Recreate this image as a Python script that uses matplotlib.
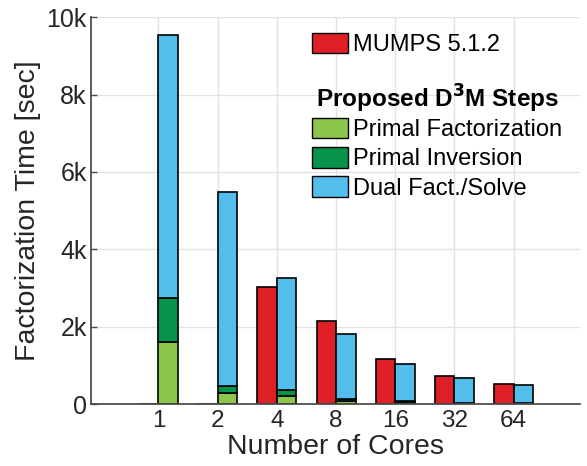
import matplotlib
matplotlib.use("Agg")
import matplotlib.pyplot as plt
import numpy as np
from matplotlib.patches import Patch

plt.rcParams['font.family'] = ['Liberation Sans', 'DejaVu Sans']

cores = ["1", "2", "4", "8", "16", "32", "64"]
mumps = [0, 0, 3020, 2150, 1170, 720, 510]
primal_fact = [1610, 280, 210, 80, 15, 10, 8]
primal_inv = [1130, 190, 140, 50, 55, 15, 10]
dual_solve = [6790, 5000, 2900, 1670, 960, 655, 462]

yticks = [0, 2000, 4000, 6000, 8000, 10000]
ytick_labels = ["0", "2k", "4k", "6k", "8k", "10k"]

c_red = '#DF1F26'
c_lg = '#8DC64C'
c_dg = '#08934A'
c_blue = '#53BDEB'

fig = plt.figure(figsize=(5.87, 4.66), dpi=100)
ax = fig.add_axes([0.155, 0.133, 0.833, 0.830])

x = np.arange(1, len(cores) + 1)
w = 0.33
ek = dict(edgecolor='black', linewidth=1.2, zorder=3)
pf = np.array(primal_fact)
pi = np.array(primal_inv)
ds = np.array(dual_solve)
ax.bar(x - w / 2, mumps, w, color=c_red, **ek)
ax.bar(x + w / 2, pf, w, color=c_lg, **ek)
ax.bar(x + w / 2, pi, w, bottom=pf, color=c_dg, **ek)
ax.bar(x + w / 2, ds, w, bottom=pf + pi, color=c_blue, **ek)

ax.set_xlim(-0.14, 8.12)
ax.set_ylim(0, 10000)
ax.set_xticks(x)
ax.set_xticklabels(cores)
ax.set_yticks(yticks)
ax.set_yticklabels(ytick_labels)
ax.grid(True, color='#E3E3E3', linewidth=1.0, zorder=0)
ax.set_axisbelow(True)
for s in ['top', 'right']:
    ax.spines[s].set_visible(False)
for s in ['left', 'bottom']:
    ax.spines[s].set_color('#4D4D4D')
    ax.spines[s].set_linewidth(1.3)
    ax.spines[s].set_zorder(4)
ax.tick_params(axis='y', direction='in', length=4, width=1, colors='#4D4D4D',
               labelcolor='#262626', labelsize=18, pad=3)
ax.tick_params(axis='x', length=0, labelcolor='#262626', labelsize=17.5, pad=4)
ax.set_xlabel("Number of Cores", fontsize=20.5, color='#262626')
ax.xaxis.set_label_coords(0.5, -0.078)
ax.set_ylabel("Factorization Time [sec]", fontsize=20.5, color='#262626', labelpad=4)

hl = dict(frameon=False, fontsize=17, handlelength=1.52, handleheight=0.95,
          handletextpad=0.2, borderaxespad=0, borderpad=0)
h1 = [Patch(facecolor=c_red, edgecolor='black', label='MUMPS 5.1.2')]
leg1 = ax.legend(handles=h1, loc='upper left', bbox_to_anchor=(0.4525, 0.96), **hl)
ax.add_artist(leg1)
h2 = [Patch(facecolor=c_lg, edgecolor='black', label='Primal Factorization'),
      Patch(facecolor=c_dg, edgecolor='black', label='Primal Inversion'),
      Patch(facecolor=c_blue, edgecolor='black', label='Dual Fact./Solve')]
leg2 = ax.legend(handles=h2, loc='upper left', bbox_to_anchor=(0.4525, 0.83),
                 labelspacing=0.25,
                 title="Proposed D$^{\\mathbf{3}}$M Steps",
                 title_fontproperties={'weight': 'bold', 'size': 17.5}, **hl)
leg2._legend_box.sep = 2

fig.savefig("out.png", dpi=100)
